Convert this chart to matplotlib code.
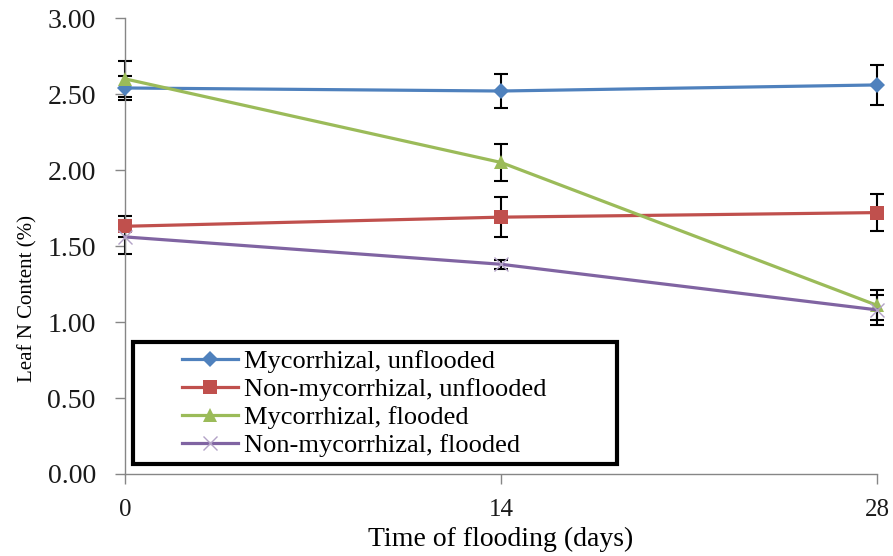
import matplotlib.pyplot as plt
from matplotlib.patches import Rectangle

plt.rcParams['font.family'] = ['Liberation Serif', 'DejaVu Serif']

# 数据
days = [0, 14, 28]
myc_unflooded = [2.54, 2.52, 2.56]
myc_unflooded_err = [0.08, 0.11, 0.13]
non_unflooded = [1.63, 1.69, 1.72]
non_unflooded_err = [0.07, 0.13, 0.12]
myc_flooded = [2.60, 2.05, 1.11]
myc_flooded_err = [0.12, 0.12, 0.10]
non_flooded = [1.56, 1.38, 1.08]
non_flooded_err = [0.11, 0.03, 0.10]
names = ['Mycorrhizal, unflooded', 'Non-mycorrhizal, unflooded',
         'Mycorrhizal, flooded', 'Non-mycorrhizal, flooded']
yticks = [0, 0.5, 1.0, 1.5, 2.0, 2.5, 3.0]

fig = plt.figure(figsize=(8.93, 5.56), dpi=100)
ax = fig.add_axes([0.14, 0.1475, 0.842, 0.82])

series = [
    (myc_unflooded, myc_unflooded_err, '#4F81BD', 'D', 8),
    (non_unflooded, non_unflooded_err, '#C0504D', 's', 10),
    (myc_flooded, myc_flooded_err, '#9BBB59', '^', 10),
    (non_flooded, non_flooded_err, '#8064A2', 'x', 10),
]

'''误差线'''
for vals, err, c, m, ms in series:
    ax.errorbar(days, vals, yerr=err, fmt='none', ecolor='black',
                elinewidth=1.5, capsize=5, capthick=1.5, zorder=2, clip_on=False)

'''折线图'''
for (vals, err, c, m, ms), name in zip(series, names):
    mew = 1.0 if m == 'x' else 0
    mc = '#B3A2C7' if m == 'x' else c
    ax.plot(days, vals, color=c, marker=m, markersize=ms, lw=2.3,
            markerfacecolor=mc, markeredgecolor=mc, markeredgewidth=mew,
            label=name, zorder=3, clip_on=False)

ax.set_xlim(0, 28)
ax.set_ylim(0, 3)
ax.set_xticks(days)
ax.set_yticks(yticks)
ax.set_yticklabels(['%.2f' % t for t in yticks])
for s in ['top', 'right']:
    ax.spines[s].set_visible(False)
for s in ['left', 'bottom']:
    ax.spines[s].set_color('#868686')
    ax.spines[s].set_linewidth(1)
ax.tick_params(axis='both', color='#868686', length=7, width=1,
               labelcolor='#1a1a1a')
ax.tick_params(axis='x', pad=11, labelsize=18)
ax.tick_params(axis='y', pad=14, labelsize=20)

ax.set_xlabel('Time of flooding (days)', fontsize=20, labelpad=4)
ax.set_ylabel('Leaf N Content (%)', fontsize=15)
ax.yaxis.set_label_coords(-0.117, 0.386)

# 图例边框
ax.add_patch(Rectangle((0.0106, 0.022), 0.644, 0.268, transform=ax.transAxes,
                       facecolor='white', edgecolor='black', lw=3, zorder=4,
                       clip_on=False))
leg = ax.legend(loc='center left', bbox_to_anchor=(0.076, 0.155), borderaxespad=0,
                fontsize=19, frameon=False, handlelength=2.1, handletextpad=0.25,
                labelspacing=0.17, borderpad=0)
leg.set_zorder(5)

plt.savefig('out.png', dpi=100)
plt.close()
